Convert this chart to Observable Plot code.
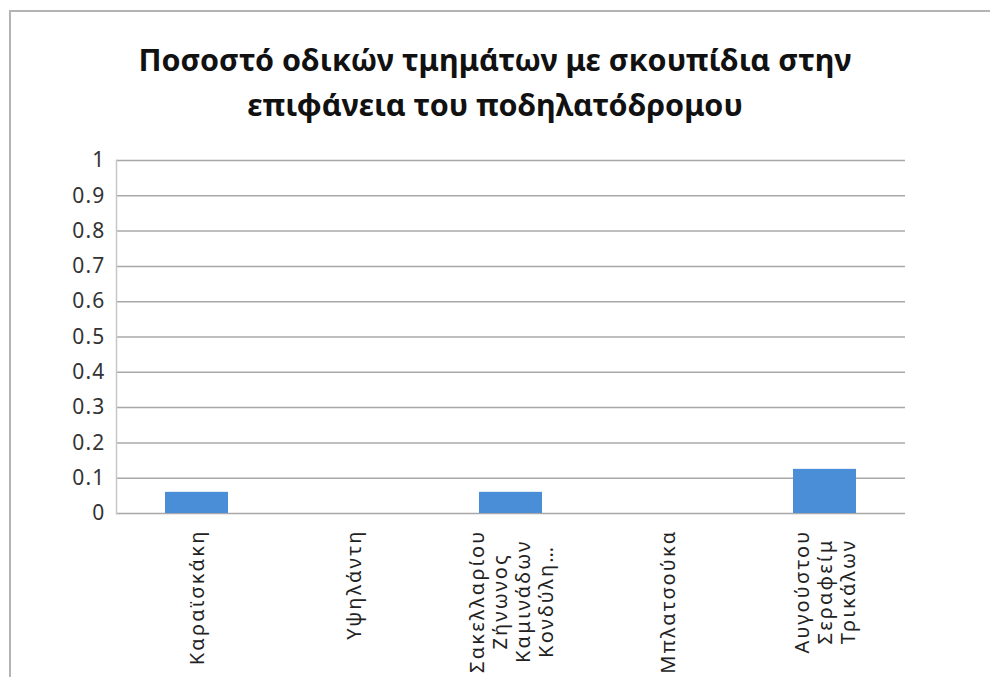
<!DOCTYPE html>
<html>
<head>
<meta charset="utf-8">
<script src="https://cdn.jsdelivr.net/npm/d3@7"></script>
<script src="https://cdn.jsdelivr.net/npm/@observablehq/plot@0.6"></script>
<style>
  html, body { margin: 0; padding: 0; background: #fff; }
  #frame {
    position: absolute; left: 9px; top: 10px; width: 990px; height: 680px;
    border-top: 2px solid #b4b4b4; border-left: 2px solid #b4b4b4;
  }
  #title {
    position: absolute; left: 0; top: 37px; width: 990px; text-align: center;
    font-family: "Noto Sans", sans-serif; font-weight: bold; font-size: 30.5px;
    line-height: 45px; color: #111;
  }
  #chart { position: absolute; left: 0; top: 140px; }
  #chart g[aria-label="x-axis tick label"] text { letter-spacing: 2.2px; }
  #chart g[aria-label="y-axis tick label"] text { letter-spacing: 1.2px; }
</style>
</head>
<body>
<div id="frame"></div>
<div id="title">Ποσοστό οδικών τμημάτων με σκουπίδια στην<br>επιφάνεια του ποδηλατόδρομου</div>
<div id="chart"></div>
<script>
const categories = [
  "Καραϊσκάκη",
  "Υψηλάντη",
  "Σακελλαρίου\nΖήνωνος\nΚαμινάδων\nΚονδύλη…",
  "Μπλατσούκα",
  "Αυγούστου\nΣεραφείμ\nΤρικάλων"
];
const values = [0.06, 0, 0.06, 0, 0.125];
const yTicks = [0, 0.1, 0.2, 0.3, 0.4, 0.5, 0.6, 0.7, 0.8, 0.9, 1];

const data = categories.map((c, i) => ({category: c, value: values[i]}));

const chart = Plot.plot({
  width: 990,
  height: 537,
  marginTop: 20,
  marginBottom: 164,
  marginLeft: 116,
  marginRight: 85,
  style: {fontFamily: "Noto Sans, sans-serif", background: "transparent"},
  x: {domain: categories, paddingInner: 0.6, paddingOuter: 0.3, label: null},
  y: {domain: [0, 1], label: null},
  marks: [
    Plot.gridY(yTicks, {stroke: "#a8a8a8", strokeOpacity: 1, strokeWidth: 1.5}),
    Plot.frame({anchor: "left", stroke: "#c8c8c8", strokeWidth: 1.5}),
    Plot.barY(data, {x: "category", y: "value", fill: "#4a8ed8"}),
    Plot.axisY(yTicks, {
      tickSize: 0, tickPadding: 11, fontSize: 21, fill: "#333",
      tickFormat: d => String(d), label: null
    }),
    Plot.axisX({
      tickSize: 0, tickPadding: 16, tickRotate: -90, fontSize: 20,
      textAnchor: "middle", lineAnchor: "middle", lineHeight: 1.15, fill: "#222", label: null
    })
  ]
});
document.getElementById("chart").appendChild(chart);

// Excel-style wrapped labels: lines centred on each other, block aligned to the axis.
chart.querySelectorAll('g[aria-label="x-axis tick label"] text').forEach(t => {
  const bb = t.getBBox();
  const shift = -(bb.x + bb.width);
  const tr = t.getAttribute("transform") || "";
  t.setAttribute("transform", tr + ` translate(${shift},0)`);
});
</script>
</body>
</html>
